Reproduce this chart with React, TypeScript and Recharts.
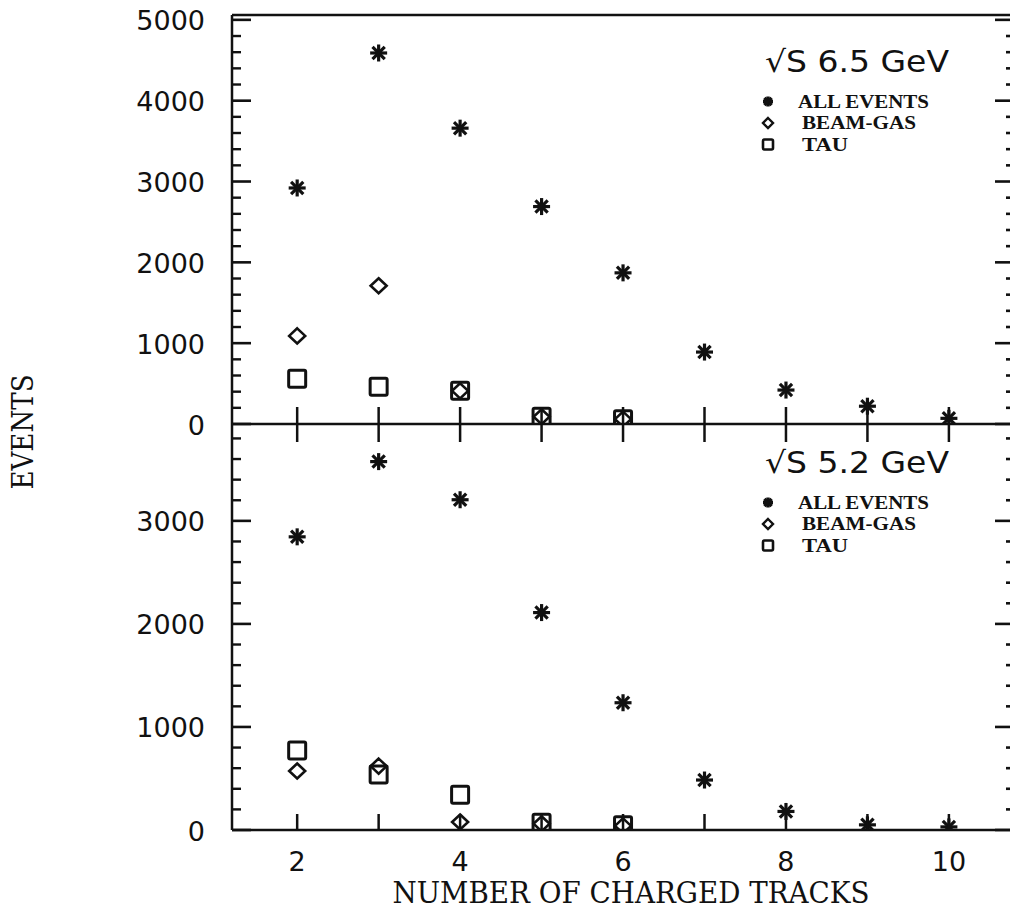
import { ScatterChart, Scatter, XAxis, YAxis, Legend } from 'recharts';

// number of charged tracks
const TRACKS = [2, 3, 4, 5, 6, 7, 8, 9, 10];
const X_LABELS = [2, 4, 6, 8, 10];

// sqrt(s) = 6.5 GeV (upper panel)
const ALL_65 = [2920, 4590, 3660, 2690, 1870, 890, 420, 220, 70];
const BEAMGAS_65 = [1090, 1710, 410, 90, 60];
const TAU_65 = [560, 460, 410, 90, 60];

// sqrt(s) = 5.2 GeV (lower panel)
const ALL_52 = [2845, 3575, 3205, 2110, 1235, 485, 180, 50, 30];
const BEAMGAS_52 = [573, 620, 78, 60, 40];
const TAU_52 = [772, 538, 343, 70, 45];

const TOP_TICKS = [0, 1000, 2000, 3000, 4000, 5000];
const BOTTOM_TICKS = [0, 1000, 2000, 3000];
const MINOR_OFFSETS = [200, 400, 600, 800];

const LEGEND_NAMES = ['ALL EVENTS', 'BEAM-GAS', 'TAU'];

const INK = '#111';
const SANS = '"DejaVu Sans", Verdana, sans-serif';
const SERIF = '"DejaVu Serif", "Liberation Serif", serif';
const TIMES = '"Liberation Serif", "Times New Roman", serif';

const W = 1011;
const X_DOMAIN: [number, number] = [1.2, 10.75];
const TOP_MAX = 5060;
const BOTTOM_MAX = 3940;
// pixels per event for each panel (plot heights 409 and 406)
const TOP_PX = 409 / TOP_MAX;
const BOTTOM_PX = 406 / BOTTOM_MAX;

const toPoints = (ys: number[]) => ys.map((y, i) => ({ x: TRACKS[i], y }));

function Star({ cx, cy, r = 8.5, w = 3.2 }: any) {
  const d = r * 0.72;
  return (
    <g stroke={INK} strokeWidth={w}>
      <line x1={cx - r} y1={cy} x2={cx + r} y2={cy} />
      <line x1={cx} y1={cy - r} x2={cx} y2={cy + r} />
      <line x1={cx - d} y1={cy - d} x2={cx + d} y2={cy + d} />
      <line x1={cx - d} y1={cy + d} x2={cx + d} y2={cy - d} />
    </g>
  );
}

function Diamond({ cx, cy, w = 8, h = 7.5, sw = 2.6 }: any) {
  return (
    <polygon
      points={`${cx},${cy - h} ${cx + w},${cy} ${cx},${cy + h} ${cx - w},${cy}`}
      fill="none"
      stroke={INK}
      strokeWidth={sw}
    />
  );
}

function Square({ cx, cy, s = 17, sw = 3 }: any) {
  return (
    <rect
      x={cx - s / 2}
      y={cy - s / 2}
      width={s}
      height={s}
      rx={1.5}
      fill="none"
      stroke={INK}
      strokeWidth={sw}
    />
  );
}

// major tick + label, with the four minor ticks above it
function LeftTick(props: any) {
  const { x, y, payload, pxPerUnit, max } = props;
  const minors = MINOR_OFFSETS.filter((m) => payload.value + m < max);
  return (
    <g>
      <line x1={x} x2={x + 19} y1={y} y2={y} stroke={INK} strokeWidth={2.6} />
      {minors.map((m) => (
        <line key={m} x1={x} x2={x + 9} y1={y - m * pxPerUnit} y2={y - m * pxPerUnit} stroke={INK} strokeWidth={2.4} />
      ))}
      <text
        x={x - 27}
        y={y + 1}
        textAnchor="end"
        dominantBaseline="central"
        fontFamily={SANS}
        fontSize={27}
        fill={INK}
      >
        {payload.value}
      </text>
    </g>
  );
}

function RightTick(props: any) {
  const { x, y, payload, pxPerUnit, max } = props;
  const minors = MINOR_OFFSETS.filter((m) => payload.value + m < max);
  return (
    <g>
      <line x1={x - 15} x2={x} y1={y} y2={y} stroke={INK} strokeWidth={2.6} />
      {minors.map((m) => (
        <line key={m} x1={x - 4} x2={x} y1={y - m * pxPerUnit} y2={y - m * pxPerUnit} stroke={INK} strokeWidth={2.6} />
      ))}
    </g>
  );
}

function TopFrameTick({ x, y }: any) {
  return <line x1={x} x2={x} y1={y} y2={y + 18} stroke={INK} strokeWidth={2.5} />;
}

function MiddleTick({ x, y }: any) {
  return <line x1={x} x2={x} y1={y - 17} y2={y + 18} stroke={INK} strokeWidth={2.5} />;
}

function BottomTick({ x, y, payload }: any) {
  const show = X_LABELS.includes(payload.value);
  return (
    <g>
      <line x1={x} x2={x} y1={y - 16} y2={y} stroke={INK} strokeWidth={2.5} />
      {show && (
        <text
          x={x}
          y={y + 31}
          textAnchor="middle"
          dominantBaseline="central"
          fontFamily={SANS}
          fontSize={27}
          fill={INK}
        >
          {payload.value}
        </text>
      )}
    </g>
  );
}

function PanelLegend({ energy }: { energy: string }) {
  const rows = [71.5, 93, 114.5];
  const widths = [131, 114, 46];
  return (
    <svg width={240} height={125} style={{ display: 'block' }}>
      <text x={10} y={42} fontFamily={SANS} fontSize={30} fill={INK} textLength={184} lengthAdjust="spacingAndGlyphs">
        {`√S ${energy} GeV`}
      </text>
      <Star cx={13} cy={rows[0]} r={5} w={3.4} />
      <Diamond cx={13} cy={rows[1]} w={5} h={5} sw={2.4} />
      <Square cx={13} cy={rows[2]} s={10} sw={2.6} />
      {LEGEND_NAMES.map((name, i) => (
        <text
          key={name}
          x={i === 0 ? 43 : 47}
          y={rows[i]}
          dominantBaseline="central"
          fontFamily={TIMES}
          fontWeight="bold"
          fontSize={18.5}
          fill={INK}
          textLength={widths[i]}
          lengthAdjust="spacingAndGlyphs"
        >
          {name}
        </text>
      ))}
    </svg>
  );
}

const axisLine = { stroke: INK, strokeWidth: 2.5 };

export default function App() {
  return (
    <div style={{ position: 'absolute', left: 0, top: 0, width: W, height: 920, background: '#fff' }}>
      {/* lower panel: sqrt(s) 5.2 GeV */}
      <div style={{ position: 'absolute', left: 0, top: 0 }}>
        <ScatterChart width={W} height={920} margin={{ top: 424, right: 0, bottom: 0, left: 152 }}>
          <XAxis
            xAxisId="b"
            type="number"
            dataKey="x"
            domain={X_DOMAIN}
            allowDataOverflow
            ticks={TRACKS}
            interval={0}
            height={90}
            tickSize={0}
            tickMargin={0}
            axisLine={axisLine}
            tick={<BottomTick />}
            label={({ viewBox }: any) => (
              <text
                x={viewBox.x + 399}
                y={viewBox.y + 73}
                textAnchor="middle"
                fontFamily={SERIF}
                fontSize={29}
                fill={INK}
                textLength={477}
                lengthAdjust="spacingAndGlyphs"
              >
                NUMBER OF CHARGED TRACKS
              </text>
            )}
          />
          <YAxis
            yAxisId="l"
            type="number"
            dataKey="y"
            domain={[0, BOTTOM_MAX]}
            allowDataOverflow
            ticks={BOTTOM_TICKS}
            interval={0}
            width={80}
            tickSize={0}
            tickMargin={0}
            axisLine={axisLine}
            tick={<LeftTick pxPerUnit={BOTTOM_PX} max={BOTTOM_MAX} />}
            label={({ viewBox }: any) => (
              <text
                x={23}
                y={viewBox.y + 8}
                transform={`rotate(-90 23 ${viewBox.y + 8})`}
                textAnchor="middle"
                dominantBaseline="central"
                fontFamily={SERIF}
                fontSize={29}
                fill={INK}
                textLength={115}
                lengthAdjust="spacingAndGlyphs"
              >
                EVENTS
              </text>
            )}
          />
          <YAxis
            yAxisId="r"
            orientation="right"
            type="number"
            domain={[0, BOTTOM_MAX]}
            allowDataOverflow
            ticks={BOTTOM_TICKS}
            interval={0}
            width={1}
            tickSize={0}
            tickMargin={0}
            axisLine={false}
            tick={<RightTick pxPerUnit={BOTTOM_PX} max={BOTTOM_MAX} />}
          />
          <Legend
            layout="vertical"
            align="center"
            verticalAlign="middle"
            wrapperStyle={{ top: 431, left: 755, width: 240 }}
            content={() => <PanelLegend energy="5.2" />}
          />
          <Scatter xAxisId="b" yAxisId="l" name="BEAM-GAS" data={toPoints(BEAMGAS_52)} shape={(p: any) => <Diamond {...p} />} isAnimationActive={false} />
          <Scatter xAxisId="b" yAxisId="l" name="TAU" data={toPoints(TAU_52)} shape={(p: any) => <Square {...p} />} isAnimationActive={false} />
          <Scatter xAxisId="b" yAxisId="l" name="ALL EVENTS" data={toPoints(ALL_52)} shape={(p: any) => <Star {...p} />} isAnimationActive={false} />
        </ScatterChart>
      </div>

      {/* upper panel: sqrt(s) 6.5 GeV */}
      <div style={{ position: 'absolute', left: 0, top: 0 }}>
        <ScatterChart width={W} height={444} margin={{ top: 14, right: 0, bottom: 0, left: 152 }}>
          <XAxis
            xAxisId="t"
            orientation="top"
            type="number"
            domain={X_DOMAIN}
            allowDataOverflow
            ticks={TRACKS}
            interval={0}
            height={1}
            tickSize={0}
            tickMargin={0}
            axisLine={axisLine}
            tick={<TopFrameTick />}
          />
          <XAxis
            xAxisId="b"
            type="number"
            dataKey="x"
            domain={X_DOMAIN}
            allowDataOverflow
            ticks={TRACKS}
            interval={0}
            height={20}
            tickSize={0}
            tickMargin={0}
            axisLine={axisLine}
            tick={<MiddleTick />}
          />
          <YAxis
            yAxisId="l"
            type="number"
            dataKey="y"
            domain={[0, TOP_MAX]}
            allowDataOverflow
            ticks={TOP_TICKS}
            interval={0}
            width={80}
            tickSize={0}
            tickMargin={0}
            axisLine={axisLine}
            tick={<LeftTick pxPerUnit={TOP_PX} max={TOP_MAX} />}
          />
          <YAxis
            yAxisId="r"
            orientation="right"
            type="number"
            domain={[0, TOP_MAX]}
            allowDataOverflow
            ticks={TOP_TICKS}
            interval={0}
            width={1}
            tickSize={0}
            tickMargin={0}
            axisLine={false}
            tick={<RightTick pxPerUnit={TOP_PX} max={TOP_MAX} />}
          />
          <Legend
            layout="vertical"
            align="center"
            verticalAlign="middle"
            wrapperStyle={{ top: 30, left: 755, width: 240 }}
            content={() => <PanelLegend energy="6.5" />}
          />
          <Scatter xAxisId="b" yAxisId="l" name="BEAM-GAS" data={toPoints(BEAMGAS_65)} shape={(p: any) => <Diamond {...p} />} isAnimationActive={false} />
          <Scatter xAxisId="b" yAxisId="l" name="TAU" data={toPoints(TAU_65)} shape={(p: any) => <Square {...p} />} isAnimationActive={false} />
          <Scatter xAxisId="b" yAxisId="l" name="ALL EVENTS" data={toPoints(ALL_65)} shape={(p: any) => <Star {...p} />} isAnimationActive={false} />
        </ScatterChart>
      </div>
    </div>
  );
}
